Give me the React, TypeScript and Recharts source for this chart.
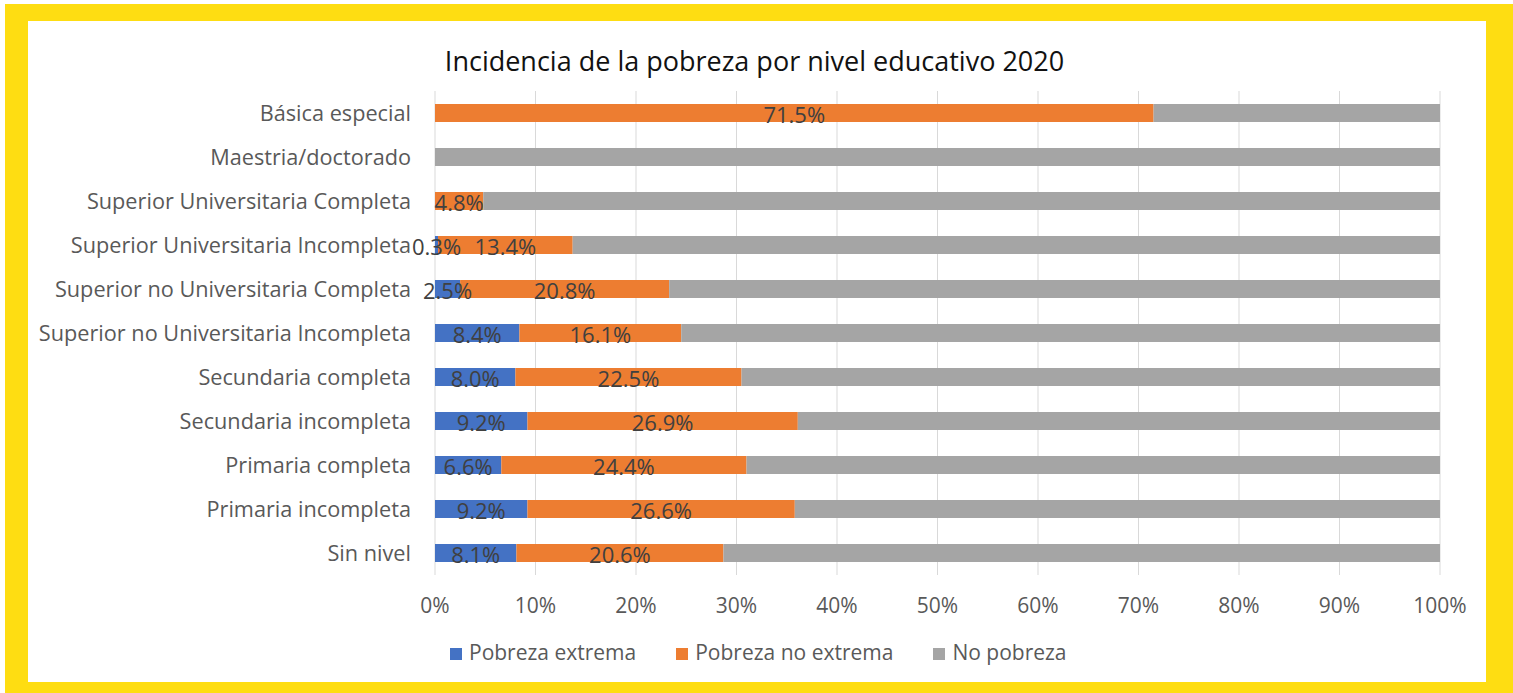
import { BarChart, Bar, XAxis, YAxis, CartesianGrid, Legend, LabelList } from 'recharts';

// Niveles educativos, de arriba hacia abajo
const niveles = [
  'Básica especial',
  'Maestria/doctorado',
  'Superior Universitaria Completa',
  'Superior Universitaria Incompleta',
  'Superior no Universitaria Completa',
  'Superior no Universitaria Incompleta',
  'Secundaria completa',
  'Secundaria incompleta',
  'Primaria completa',
  'Primaria incompleta',
  'Sin nivel',
];

const pobrezaExtrema = [0, 0, 0, 0.3, 2.5, 8.4, 8.0, 9.2, 6.6, 9.2, 8.1];
const pobrezaNoExtrema = [71.5, 0, 4.8, 13.4, 20.8, 16.1, 22.5, 26.9, 24.4, 26.6, 20.6];
const noPobreza = [28.5, 100, 95.2, 86.3, 76.7, 75.5, 69.5, 63.9, 69.0, 64.2, 71.3];

const xTicks = [0, 10, 20, 30, 40, 50, 60, 70, 80, 90, 100];

const data = niveles.map((nombre, i) => ({
  nombre,
  extrema: pobrezaExtrema[i],
  noExtrema: pobrezaNoExtrema[i],
  noPobreza: noPobreza[i],
}));

const FONT = '"Open Sans", Lato, sans-serif';

// oculta las etiquetas de los valores en cero
const pct = (v: any) => (Number(v) > 0 ? `${Number(v).toFixed(1)}%` : '');

const App = () => {
  return (
    <div
      style={{
        position: 'absolute',
        left: 0,
        top: 0,
        width: 1513,
        height: 693,
        background: '#ffffff',
      }}
    >
      {/* marco amarillo */}
      <div
        style={{
          position: 'absolute',
          left: 5,
          top: 4,
          width: 1508,
          height: 689,
          background: '#FEDD12',
        }}
      />
      <div
        style={{
          position: 'absolute',
          left: 28,
          top: 21,
          width: 1458,
          height: 661,
          background: '#ffffff',
        }}
      >
        <div
          style={{
            position: 'absolute',
            left: 0,
            top: 21,
            width: 1453,
            textAlign: 'center',
            fontFamily: FONT,
            fontSize: 27,
            color: '#111',
          }}
        >
          Incidencia de la pobreza por nivel educativo 2020
        </div>
        <BarChart
          width={1458}
          height={661}
          data={data}
          layout="vertical"
          margin={{ top: 70, right: 46, bottom: 49, left: 0 }}
          barSize={18}
          style={{ fontFamily: FONT }}
        >
          <CartesianGrid horizontal={false} stroke="#D9D9D9" />
          <XAxis
            type="number"
            domain={[0, 100]}
            ticks={xTicks}
            tickFormatter={(v) => `${v}%`}
            axisLine={false}
            tickLine={false}
            tick={{ fill: '#595959', fontSize: 21 }}
            tickMargin={17}
          />
          <YAxis
            type="category"
            dataKey="nombre"
            width={407}
            axisLine={false}
            tickLine={false}
            tick={{ fill: '#595959', fontSize: 21.7 }}
            tickMargin={18}
            interval={0}
          />
          <Legend
            iconType="square"
            iconSize={12}
            itemSorter="dataKey"
            align="left"
            wrapperStyle={{ top: 617, left: 422, width: 680, fontSize: 21, color: '#595959' }}
            formatter={(value, _entry, index) => (
              <span style={{ color: '#595959', paddingLeft: 3, paddingRight: index < 2 ? 30 : 0 }}>{value}</span>
            )}
          />
          <Bar dataKey="extrema" name="Pobreza extrema" stackId="a" fill="#4472C4" isAnimationActive={false}>
            <LabelList dataKey="extrema" position="center" formatter={pct} fill="#404040" fontSize={22} dy={2} />
          </Bar>
          <Bar dataKey="noExtrema" name="Pobreza no extrema" stackId="a" fill="#ED7D31" isAnimationActive={false}>
            <LabelList dataKey="noExtrema" position="center" formatter={pct} fill="#404040" fontSize={22} dy={2} />
          </Bar>
          <Bar dataKey="noPobreza" name="No pobreza" stackId="a" fill="#A5A5A5" isAnimationActive={false} />
        </BarChart>
      </div>
    </div>
  );
};

export default App;
